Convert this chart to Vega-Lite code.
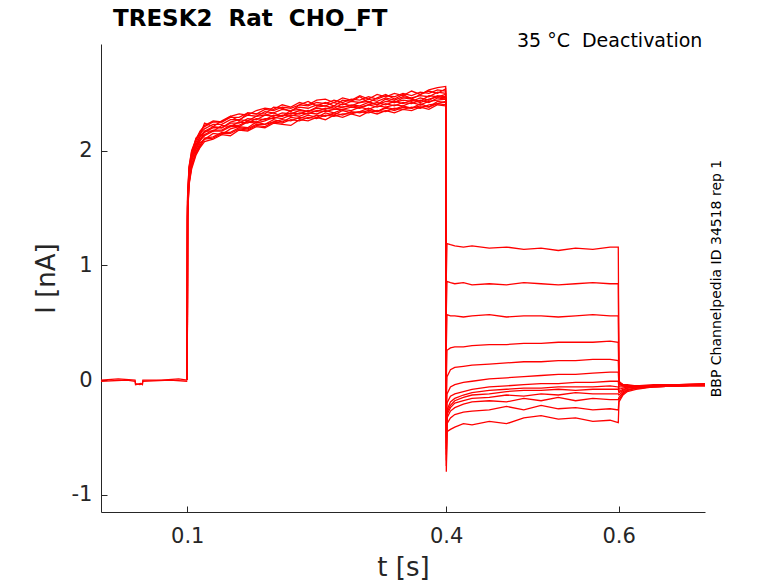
{
  "$schema": "https://vega.github.io/schema/vega-lite/v6.json",
  "width": 604,
  "height": 468,
  "autosize": "none",
  "padding": {"left": 101, "top": 44, "right": 73, "bottom": 71},
  "background": "white",
  "title": {"text": "TRESK2\u00a0 Rat\u00a0 CHO_FT", "anchor": "start", "frame": "group", "dx": 12, "dy": 21, "offset": 4, "baseline": "alphabetic",
            "fontSize": 23, "fontWeight": "bold", "font": "DejaVu Sans", "color": "#000000"},
  "datasets": {
    "note": [{"t": 0.697, "v": 2.9, "label": "35 °C\u00a0 Deactivation"}],
    "traces": [
      {"s":0,"t":0,"v":0},{"s":0,"t":0.02,"v":0.01},{"s":0,"t":0.0395,"v":0},{"s":0,"t":0.04,"v":-0.03},{"s":0,"t":0.045,"v":-0.04},{"s":0,"t":0.048,"v":-0.03},{"s":0,"t":0.0485,"v":0},{"s":0,"t":0.07,"v":0},{"s":0,"t":0.09,"v":0.01},{"s":0,"t":0.1,"v":0},
      {"s":14,"t":0,"v":-0.01},{"s":14,"t":0.03,"v":0},{"s":14,"t":0.0395,"v":-0.01},{"s":14,"t":0.04,"v":-0.04},{"s":14,"t":0.046,"v":-0.03},{"s":14,"t":0.048,"v":-0.04},{"s":14,"t":0.0485,"v":-0.01},{"s":14,"t":0.08,"v":0},{"s":14,"t":0.1,"v":-0.01},

      {"s":1,"t":0.1,"v":0},{"s":1,"t":0.1003,"v":1.55},{"s":1,"t":0.102,"v":1.84},{"s":1,"t":0.105,"v":1.96},{"s":1,"t":0.11,"v":2.11},{"s":1,"t":0.115,"v":2.14},{"s":1,"t":0.12,"v":2.24},{"s":1,"t":0.13,"v":2.21},{"s":1,"t":0.14,"v":2.26},{"s":1,"t":0.15,"v":2.3},{"s":1,"t":0.16,"v":2.26},{"s":1,"t":0.17,"v":2.33},{"s":1,"t":0.18,"v":2.32},{"s":1,"t":0.19,"v":2.32},{"s":1,"t":0.2,"v":2.38},{"s":1,"t":0.21,"v":2.37},{"s":1,"t":0.22,"v":2.34},{"s":1,"t":0.23,"v":2.4},{"s":1,"t":0.24,"v":2.43},{"s":1,"t":0.25,"v":2.39},{"s":1,"t":0.26,"v":2.42},{"s":1,"t":0.27,"v":2.39},{"s":1,"t":0.28,"v":2.44},{"s":1,"t":0.29,"v":2.43},{"s":1,"t":0.3,"v":2.47},{"s":1,"t":0.31,"v":2.42},{"s":1,"t":0.32,"v":2.46},{"s":1,"t":0.33,"v":2.49},{"s":1,"t":0.34,"v":2.45},{"s":1,"t":0.35,"v":2.49},{"s":1,"t":0.36,"v":2.45},{"s":1,"t":0.37,"v":2.49},{"s":1,"t":0.38,"v":2.52},{"s":1,"t":0.39,"v":2.5},{"s":1,"t":0.3995,"v":2.54},
      {"s":1,"t":0.4002,"v":0.9},{"s":1,"t":0.401,"v":1.19},{"s":1,"t":0.405,"v":1.18},{"s":1,"t":0.41,"v":1.17},{"s":1,"t":0.42,"v":1.16},{"s":1,"t":0.43,"v":1.17},{"s":1,"t":0.45,"v":1.15},{"s":1,"t":0.47,"v":1.16},{"s":1,"t":0.49,"v":1.14},{"s":1,"t":0.51,"v":1.15},{"s":1,"t":0.53,"v":1.13},{"s":1,"t":0.55,"v":1.15},{"s":1,"t":0.57,"v":1.14},{"s":1,"t":0.59,"v":1.16},{"s":1,"t":0.5995,"v":1.16},
      {"s":1,"t":0.6003,"v":-0.02},{"s":1,"t":0.605,"v":-0.04},{"s":1,"t":0.61,"v":-0.05},{"s":1,"t":0.62,"v":-0.05},{"s":1,"t":0.64,"v":-0.04},{"s":1,"t":0.67,"v":-0.04},{"s":1,"t":0.7,"v":-0.03},

      {"s":2,"t":0.1,"v":0},{"s":2,"t":0.1003,"v":1.45},{"s":2,"t":0.102,"v":1.74},{"s":2,"t":0.105,"v":1.88},{"s":2,"t":0.11,"v":1.99},{"s":2,"t":0.115,"v":2.07},{"s":2,"t":0.12,"v":2.1},{"s":2,"t":0.13,"v":2.15},{"s":2,"t":0.14,"v":2.14},{"s":2,"t":0.15,"v":2.19},{"s":2,"t":0.16,"v":2.21},{"s":2,"t":0.17,"v":2.2},{"s":2,"t":0.18,"v":2.25},{"s":2,"t":0.19,"v":2.23},{"s":2,"t":0.2,"v":2.27},{"s":2,"t":0.21,"v":2.25},{"s":2,"t":0.22,"v":2.29},{"s":2,"t":0.23,"v":2.28},{"s":2,"t":0.24,"v":2.31},{"s":2,"t":0.25,"v":2.29},{"s":2,"t":0.26,"v":2.33},{"s":2,"t":0.27,"v":2.31},{"s":2,"t":0.28,"v":2.35},{"s":2,"t":0.29,"v":2.33},{"s":2,"t":0.3,"v":2.34},{"s":2,"t":0.31,"v":2.37},{"s":2,"t":0.32,"v":2.34},{"s":2,"t":0.33,"v":2.38},{"s":2,"t":0.34,"v":2.36},{"s":2,"t":0.35,"v":2.39},{"s":2,"t":0.36,"v":2.37},{"s":2,"t":0.37,"v":2.41},{"s":2,"t":0.38,"v":2.38},{"s":2,"t":0.39,"v":2.43},{"s":2,"t":0.3995,"v":2.42},
      {"s":2,"t":0.4002,"v":0.6},{"s":2,"t":0.401,"v":0.86},{"s":2,"t":0.405,"v":0.85},{"s":2,"t":0.41,"v":0.84},{"s":2,"t":0.42,"v":0.85},{"s":2,"t":0.43,"v":0.83},{"s":2,"t":0.45,"v":0.84},{"s":2,"t":0.47,"v":0.83},{"s":2,"t":0.49,"v":0.85},{"s":2,"t":0.51,"v":0.84},{"s":2,"t":0.53,"v":0.83},{"s":2,"t":0.55,"v":0.84},{"s":2,"t":0.57,"v":0.85},{"s":2,"t":0.59,"v":0.84},{"s":2,"t":0.5995,"v":0.84},
      {"s":2,"t":0.6003,"v":-0.01},{"s":2,"t":0.605,"v":-0.04},{"s":2,"t":0.61,"v":-0.04},{"s":2,"t":0.62,"v":-0.05},{"s":2,"t":0.64,"v":-0.05},{"s":2,"t":0.67,"v":-0.04},{"s":2,"t":0.7,"v":-0.03},

      {"s":3,"t":0.1,"v":0},{"s":3,"t":0.1003,"v":1.52},{"s":3,"t":0.102,"v":1.8},{"s":3,"t":0.105,"v":1.96},{"s":3,"t":0.11,"v":2.05},{"s":3,"t":0.115,"v":2.13},{"s":3,"t":0.12,"v":2.17},{"s":3,"t":0.13,"v":2.21},{"s":3,"t":0.14,"v":2.2},{"s":3,"t":0.15,"v":2.25},{"s":3,"t":0.16,"v":2.27},{"s":3,"t":0.17,"v":2.26},{"s":3,"t":0.18,"v":2.3},{"s":3,"t":0.19,"v":2.31},{"s":3,"t":0.2,"v":2.33},{"s":3,"t":0.21,"v":2.3},{"s":3,"t":0.22,"v":2.35},{"s":3,"t":0.23,"v":2.36},{"s":3,"t":0.24,"v":2.34},{"s":3,"t":0.25,"v":2.38},{"s":3,"t":0.26,"v":2.39},{"s":3,"t":0.27,"v":2.37},{"s":3,"t":0.28,"v":2.41},{"s":3,"t":0.29,"v":2.39},{"s":3,"t":0.3,"v":2.42},{"s":3,"t":0.31,"v":2.43},{"s":3,"t":0.32,"v":2.4},{"s":3,"t":0.33,"v":2.45},{"s":3,"t":0.34,"v":2.42},{"s":3,"t":0.35,"v":2.46},{"s":3,"t":0.36,"v":2.45},{"s":3,"t":0.37,"v":2.43},{"s":3,"t":0.38,"v":2.48},{"s":3,"t":0.39,"v":2.47},{"s":3,"t":0.3995,"v":2.49},
      {"s":3,"t":0.4002,"v":0.3},{"s":3,"t":0.401,"v":0.57},{"s":3,"t":0.405,"v":0.56},{"s":3,"t":0.41,"v":0.56},{"s":3,"t":0.42,"v":0.55},{"s":3,"t":0.43,"v":0.56},{"s":3,"t":0.45,"v":0.57},{"s":3,"t":0.47,"v":0.55},{"s":3,"t":0.49,"v":0.56},{"s":3,"t":0.51,"v":0.56},{"s":3,"t":0.53,"v":0.55},{"s":3,"t":0.55,"v":0.56},{"s":3,"t":0.57,"v":0.57},{"s":3,"t":0.59,"v":0.56},{"s":3,"t":0.5995,"v":0.56},
      {"s":3,"t":0.6003,"v":-0.03},{"s":3,"t":0.605,"v":-0.04},{"s":3,"t":0.61,"v":-0.05},{"s":3,"t":0.62,"v":-0.05},{"s":3,"t":0.64,"v":-0.05},{"s":3,"t":0.67,"v":-0.04},{"s":3,"t":0.7,"v":-0.04},

      {"s":4,"t":0.1,"v":0},{"s":4,"t":0.1003,"v":1.4},{"s":4,"t":0.102,"v":1.7},{"s":4,"t":0.105,"v":1.84},{"s":4,"t":0.11,"v":1.96},{"s":4,"t":0.115,"v":2.03},{"s":4,"t":0.12,"v":2.08},{"s":4,"t":0.13,"v":2.1},{"s":4,"t":0.14,"v":2.14},{"s":4,"t":0.15,"v":2.13},{"s":4,"t":0.16,"v":2.18},{"s":4,"t":0.17,"v":2.17},{"s":4,"t":0.18,"v":2.21},{"s":4,"t":0.19,"v":2.2},{"s":4,"t":0.2,"v":2.24},{"s":4,"t":0.21,"v":2.23},{"s":4,"t":0.22,"v":2.22},{"s":4,"t":0.23,"v":2.27},{"s":4,"t":0.24,"v":2.26},{"s":4,"t":0.25,"v":2.29},{"s":4,"t":0.26,"v":2.27},{"s":4,"t":0.27,"v":2.31},{"s":4,"t":0.28,"v":2.29},{"s":4,"t":0.29,"v":2.32},{"s":4,"t":0.3,"v":2.3},{"s":4,"t":0.31,"v":2.34},{"s":4,"t":0.32,"v":2.32},{"s":4,"t":0.33,"v":2.35},{"s":4,"t":0.34,"v":2.33},{"s":4,"t":0.35,"v":2.36},{"s":4,"t":0.36,"v":2.35},{"s":4,"t":0.37,"v":2.38},{"s":4,"t":0.38,"v":2.36},{"s":4,"t":0.39,"v":2.4},{"s":4,"t":0.3995,"v":2.39},
      {"s":4,"t":0.4002,"v":0},{"s":4,"t":0.401,"v":0.26},{"s":4,"t":0.405,"v":0.28},{"s":4,"t":0.41,"v":0.29},{"s":4,"t":0.42,"v":0.29},{"s":4,"t":0.43,"v":0.3},{"s":4,"t":0.45,"v":0.31},{"s":4,"t":0.47,"v":0.31},{"s":4,"t":0.49,"v":0.32},{"s":4,"t":0.51,"v":0.32},{"s":4,"t":0.53,"v":0.33},{"s":4,"t":0.55,"v":0.33},{"s":4,"t":0.57,"v":0.33},{"s":4,"t":0.59,"v":0.34},{"s":4,"t":0.5995,"v":0.33},
      {"s":4,"t":0.6003,"v":-0.03},{"s":4,"t":0.605,"v":-0.05},{"s":4,"t":0.61,"v":-0.05},{"s":4,"t":0.62,"v":-0.05},{"s":4,"t":0.64,"v":-0.05},{"s":4,"t":0.67,"v":-0.04},{"s":4,"t":0.7,"v":-0.04},

      {"s":5,"t":0.1,"v":0},{"s":5,"t":0.1003,"v":1.6},{"s":5,"t":0.102,"v":1.86},{"s":5,"t":0.105,"v":2},{"s":5,"t":0.11,"v":2.1},{"s":5,"t":0.115,"v":2.17},{"s":5,"t":0.12,"v":2.22},{"s":5,"t":0.13,"v":2.26},{"s":5,"t":0.14,"v":2.25},{"s":5,"t":0.15,"v":2.3},{"s":5,"t":0.16,"v":2.32},{"s":5,"t":0.17,"v":2.31},{"s":5,"t":0.18,"v":2.35},{"s":5,"t":0.19,"v":2.37},{"s":5,"t":0.2,"v":2.36},{"s":5,"t":0.21,"v":2.4},{"s":5,"t":0.22,"v":2.38},{"s":5,"t":0.23,"v":2.42},{"s":5,"t":0.24,"v":2.4},{"s":5,"t":0.25,"v":2.44},{"s":5,"t":0.26,"v":2.45},{"s":5,"t":0.27,"v":2.42},{"s":5,"t":0.28,"v":2.46},{"s":5,"t":0.29,"v":2.44},{"s":5,"t":0.3,"v":2.48},{"s":5,"t":0.31,"v":2.45},{"s":5,"t":0.32,"v":2.49},{"s":5,"t":0.33,"v":2.47},{"s":5,"t":0.34,"v":2.5},{"s":5,"t":0.35,"v":2.48},{"s":5,"t":0.36,"v":2.52},{"s":5,"t":0.37,"v":2.49},{"s":5,"t":0.38,"v":2.53},{"s":5,"t":0.39,"v":2.55},{"s":5,"t":0.3995,"v":2.56},
      {"s":5,"t":0.4002,"v":-0.2},{"s":5,"t":0.401,"v":0.03},{"s":5,"t":0.405,"v":0.09},{"s":5,"t":0.41,"v":0.11},{"s":5,"t":0.42,"v":0.12},{"s":5,"t":0.43,"v":0.13},{"s":5,"t":0.45,"v":0.14},{"s":5,"t":0.47,"v":0.15},{"s":5,"t":0.49,"v":0.16},{"s":5,"t":0.51,"v":0.16},{"s":5,"t":0.53,"v":0.17},{"s":5,"t":0.55,"v":0.17},{"s":5,"t":0.57,"v":0.18},{"s":5,"t":0.59,"v":0.18},{"s":5,"t":0.5995,"v":0.17},
      {"s":5,"t":0.6003,"v":-0.04},{"s":5,"t":0.605,"v":-0.05},{"s":5,"t":0.61,"v":-0.06},{"s":5,"t":0.62,"v":-0.05},{"s":5,"t":0.64,"v":-0.05},{"s":5,"t":0.67,"v":-0.04},{"s":5,"t":0.7,"v":-0.04},

      {"s":6,"t":0.1,"v":0},{"s":6,"t":0.1003,"v":1.5},{"s":6,"t":0.102,"v":1.78},{"s":6,"t":0.105,"v":1.92},{"s":6,"t":0.11,"v":2.05},{"s":6,"t":0.115,"v":2.09},{"s":6,"t":0.12,"v":2.17},{"s":6,"t":0.13,"v":2.17},{"s":6,"t":0.14,"v":2.22},{"s":6,"t":0.15,"v":2.21},{"s":6,"t":0.16,"v":2.25},{"s":6,"t":0.17,"v":2.24},{"s":6,"t":0.18,"v":2.28},{"s":6,"t":0.19,"v":2.27},{"s":6,"t":0.2,"v":2.31},{"s":6,"t":0.21,"v":2.3},{"s":6,"t":0.22,"v":2.33},{"s":6,"t":0.23,"v":2.32},{"s":6,"t":0.24,"v":2.35},{"s":6,"t":0.25,"v":2.34},{"s":6,"t":0.26,"v":2.37},{"s":6,"t":0.27,"v":2.36},{"s":6,"t":0.28,"v":2.38},{"s":6,"t":0.29,"v":2.39},{"s":6,"t":0.3,"v":2.38},{"s":6,"t":0.31,"v":2.4},{"s":6,"t":0.32,"v":2.42},{"s":6,"t":0.33,"v":2.4},{"s":6,"t":0.34,"v":2.43},{"s":6,"t":0.35,"v":2.41},{"s":6,"t":0.36,"v":2.44},{"s":6,"t":0.37,"v":2.42},{"s":6,"t":0.38,"v":2.45},{"s":6,"t":0.39,"v":2.47},{"s":6,"t":0.3995,"v":2.46},
      {"s":6,"t":0.4002,"v":-0.4},{"s":6,"t":0.401,"v":-0.12},{"s":6,"t":0.405,"v":-0.06},{"s":6,"t":0.41,"v":-0.04},{"s":6,"t":0.42,"v":-0.02},{"s":6,"t":0.43,"v":-0.01},{"s":6,"t":0.45,"v":0.01},{"s":6,"t":0.47,"v":0.02},{"s":6,"t":0.49,"v":0.03},{"s":6,"t":0.51,"v":0.04},{"s":6,"t":0.53,"v":0.05},{"s":6,"t":0.55,"v":0.05},{"s":6,"t":0.57,"v":0.06},{"s":6,"t":0.59,"v":0.07},{"s":6,"t":0.5995,"v":0.07},
      {"s":6,"t":0.6003,"v":-0.06},{"s":6,"t":0.605,"v":-0.06},{"s":6,"t":0.61,"v":-0.06},{"s":6,"t":0.62,"v":-0.05},{"s":6,"t":0.64,"v":-0.05},{"s":6,"t":0.67,"v":-0.05},{"s":6,"t":0.7,"v":-0.04},

      {"s":7,"t":0.1,"v":0},{"s":7,"t":0.1003,"v":1.47},{"s":7,"t":0.102,"v":1.76},{"s":7,"t":0.105,"v":1.91},{"s":7,"t":0.11,"v":2.01},{"s":7,"t":0.115,"v":2.09},{"s":7,"t":0.12,"v":2.13},{"s":7,"t":0.13,"v":2.17},{"s":7,"t":0.14,"v":2.17},{"s":7,"t":0.15,"v":2.21},{"s":7,"t":0.16,"v":2.21},{"s":7,"t":0.17,"v":2.25},{"s":7,"t":0.18,"v":2.24},{"s":7,"t":0.19,"v":2.26},{"s":7,"t":0.2,"v":2.29},{"s":7,"t":0.21,"v":2.28},{"s":7,"t":0.22,"v":2.31},{"s":7,"t":0.23,"v":2.3},{"s":7,"t":0.24,"v":2.33},{"s":7,"t":0.25,"v":2.32},{"s":7,"t":0.26,"v":2.35},{"s":7,"t":0.27,"v":2.33},{"s":7,"t":0.28,"v":2.36},{"s":7,"t":0.29,"v":2.35},{"s":7,"t":0.3,"v":2.38},{"s":7,"t":0.31,"v":2.36},{"s":7,"t":0.32,"v":2.39},{"s":7,"t":0.33,"v":2.38},{"s":7,"t":0.34,"v":2.4},{"s":7,"t":0.35,"v":2.39},{"s":7,"t":0.36,"v":2.42},{"s":7,"t":0.37,"v":2.4},{"s":7,"t":0.38,"v":2.43},{"s":7,"t":0.39,"v":2.44},{"s":7,"t":0.3995,"v":2.45},
      {"s":7,"t":0.4002,"v":-0.5},{"s":7,"t":0.401,"v":-0.2},{"s":7,"t":0.405,"v":-0.14},{"s":7,"t":0.41,"v":-0.12},{"s":7,"t":0.42,"v":-0.1},{"s":7,"t":0.43,"v":-0.08},{"s":7,"t":0.45,"v":-0.06},{"s":7,"t":0.47,"v":-0.05},{"s":7,"t":0.49,"v":-0.04},{"s":7,"t":0.51,"v":-0.03},{"s":7,"t":0.53,"v":-0.03},{"s":7,"t":0.55,"v":-0.02},{"s":7,"t":0.57,"v":-0.02},{"s":7,"t":0.59,"v":-0.01},{"s":7,"t":0.5995,"v":-0.01},
      {"s":7,"t":0.6003,"v":-0.08},{"s":7,"t":0.605,"v":-0.07},{"s":7,"t":0.61,"v":-0.06},{"s":7,"t":0.62,"v":-0.06},{"s":7,"t":0.64,"v":-0.05},{"s":7,"t":0.67,"v":-0.04},{"s":7,"t":0.7,"v":-0.04},

      {"s":8,"t":0.1,"v":0},{"s":8,"t":0.1003,"v":1.56},{"s":8,"t":0.102,"v":1.82},{"s":8,"t":0.105,"v":1.97},{"s":8,"t":0.11,"v":2.07},{"s":8,"t":0.115,"v":2.15},{"s":8,"t":0.12,"v":2.19},{"s":8,"t":0.13,"v":2.23},{"s":8,"t":0.14,"v":2.23},{"s":8,"t":0.15,"v":2.27},{"s":8,"t":0.16,"v":2.27},{"s":8,"t":0.17,"v":2.31},{"s":8,"t":0.18,"v":2.3},{"s":8,"t":0.19,"v":2.34},{"s":8,"t":0.2,"v":2.33},{"s":8,"t":0.21,"v":2.36},{"s":8,"t":0.22,"v":2.35},{"s":8,"t":0.23,"v":2.38},{"s":8,"t":0.24,"v":2.37},{"s":8,"t":0.25,"v":2.4},{"s":8,"t":0.26,"v":2.39},{"s":8,"t":0.27,"v":2.42},{"s":8,"t":0.28,"v":2.4},{"s":8,"t":0.29,"v":2.43},{"s":8,"t":0.3,"v":2.42},{"s":8,"t":0.31,"v":2.45},{"s":8,"t":0.32,"v":2.43},{"s":8,"t":0.33,"v":2.46},{"s":8,"t":0.34,"v":2.44},{"s":8,"t":0.35,"v":2.47},{"s":8,"t":0.36,"v":2.46},{"s":8,"t":0.37,"v":2.48},{"s":8,"t":0.38,"v":2.47},{"s":8,"t":0.39,"v":2.51},{"s":8,"t":0.3995,"v":2.5},
      {"s":8,"t":0.4002,"v":-0.55},{"s":8,"t":0.401,"v":-0.26},{"s":8,"t":0.405,"v":-0.19},{"s":8,"t":0.41,"v":-0.16},{"s":8,"t":0.42,"v":-0.13},{"s":8,"t":0.43,"v":-0.11},{"s":8,"t":0.45,"v":-0.09},{"s":8,"t":0.47,"v":-0.08},{"s":8,"t":0.49,"v":-0.07},{"s":8,"t":0.51,"v":-0.07},{"s":8,"t":0.53,"v":-0.06},{"s":8,"t":0.55,"v":-0.06},{"s":8,"t":0.57,"v":-0.06},{"s":8,"t":0.59,"v":-0.05},{"s":8,"t":0.5995,"v":-0.06},
      {"s":8,"t":0.6003,"v":-0.1},{"s":8,"t":0.605,"v":-0.08},{"s":8,"t":0.61,"v":-0.07},{"s":8,"t":0.62,"v":-0.06},{"s":8,"t":0.64,"v":-0.05},{"s":8,"t":0.67,"v":-0.05},{"s":8,"t":0.7,"v":-0.04},

      {"s":9,"t":0.1,"v":0},{"s":9,"t":0.1003,"v":1.43},{"s":9,"t":0.102,"v":1.72},{"s":9,"t":0.105,"v":1.87},{"s":9,"t":0.11,"v":1.98},{"s":9,"t":0.115,"v":2.05},{"s":9,"t":0.12,"v":2.11},{"s":9,"t":0.13,"v":2.12},{"s":9,"t":0.14,"v":2.16},{"s":9,"t":0.15,"v":2.16},{"s":9,"t":0.16,"v":2.2},{"s":9,"t":0.17,"v":2.19},{"s":9,"t":0.18,"v":2.23},{"s":9,"t":0.19,"v":2.23},{"s":9,"t":0.2,"v":2.25},{"s":9,"t":0.21,"v":2.27},{"s":9,"t":0.22,"v":2.26},{"s":9,"t":0.23,"v":2.29},{"s":9,"t":0.24,"v":2.28},{"s":9,"t":0.25,"v":2.31},{"s":9,"t":0.26,"v":2.3},{"s":9,"t":0.27,"v":2.33},{"s":9,"t":0.28,"v":2.31},{"s":9,"t":0.29,"v":2.34},{"s":9,"t":0.3,"v":2.33},{"s":9,"t":0.31,"v":2.35},{"s":9,"t":0.32,"v":2.34},{"s":9,"t":0.33,"v":2.37},{"s":9,"t":0.34,"v":2.35},{"s":9,"t":0.35,"v":2.38},{"s":9,"t":0.36,"v":2.37},{"s":9,"t":0.37,"v":2.39},{"s":9,"t":0.38,"v":2.38},{"s":9,"t":0.39,"v":2.41},{"s":9,"t":0.3995,"v":2.43},
      {"s":9,"t":0.4002,"v":-0.6},{"s":9,"t":0.401,"v":-0.28},{"s":9,"t":0.405,"v":-0.22},{"s":9,"t":0.41,"v":-0.18},{"s":9,"t":0.42,"v":-0.15},{"s":9,"t":0.43,"v":-0.13},{"s":9,"t":0.45,"v":-0.12},{"s":9,"t":0.47,"v":-0.1},{"s":9,"t":0.49,"v":-0.09},{"s":9,"t":0.51,"v":-0.09},{"s":9,"t":0.53,"v":-0.08},{"s":9,"t":0.55,"v":-0.09},{"s":9,"t":0.57,"v":-0.08},{"s":9,"t":0.59,"v":-0.08},{"s":9,"t":0.5995,"v":-0.08},
      {"s":9,"t":0.6003,"v":-0.11},{"s":9,"t":0.605,"v":-0.09},{"s":9,"t":0.61,"v":-0.07},{"s":9,"t":0.62,"v":-0.06},{"s":9,"t":0.64,"v":-0.05},{"s":9,"t":0.67,"v":-0.05},{"s":9,"t":0.7,"v":-0.04},

      {"s":10,"t":0.1,"v":0},{"s":10,"t":0.1003,"v":1.51},{"s":10,"t":0.102,"v":1.79},{"s":10,"t":0.105,"v":1.95},{"s":10,"t":0.11,"v":2.04},{"s":10,"t":0.115,"v":2.12},{"s":10,"t":0.12,"v":2.16},{"s":10,"t":0.13,"v":2.2},{"s":10,"t":0.14,"v":2.2},{"s":10,"t":0.15,"v":2.24},{"s":10,"t":0.16,"v":2.24},{"s":10,"t":0.17,"v":2.28},{"s":10,"t":0.18,"v":2.27},{"s":10,"t":0.19,"v":2.31},{"s":10,"t":0.2,"v":2.3},{"s":10,"t":0.21,"v":2.33},{"s":10,"t":0.22,"v":2.32},{"s":10,"t":0.23,"v":2.35},{"s":10,"t":0.24,"v":2.34},{"s":10,"t":0.25,"v":2.37},{"s":10,"t":0.26,"v":2.36},{"s":10,"t":0.27,"v":2.39},{"s":10,"t":0.28,"v":2.38},{"s":10,"t":0.29,"v":2.4},{"s":10,"t":0.3,"v":2.39},{"s":10,"t":0.31,"v":2.42},{"s":10,"t":0.32,"v":2.4},{"s":10,"t":0.33,"v":2.43},{"s":10,"t":0.34,"v":2.42},{"s":10,"t":0.35,"v":2.44},{"s":10,"t":0.36,"v":2.43},{"s":10,"t":0.37,"v":2.46},{"s":10,"t":0.38,"v":2.44},{"s":10,"t":0.39,"v":2.48},{"s":10,"t":0.3995,"v":2.47},
      {"s":10,"t":0.4002,"v":-0.65},{"s":10,"t":0.401,"v":-0.3},{"s":10,"t":0.405,"v":-0.24},{"s":10,"t":0.41,"v":-0.2},{"s":10,"t":0.42,"v":-0.18},{"s":10,"t":0.43,"v":-0.16},{"s":10,"t":0.45,"v":-0.15},{"s":10,"t":0.47,"v":-0.13},{"s":10,"t":0.49,"v":-0.14},{"s":10,"t":0.51,"v":-0.12},{"s":10,"t":0.53,"v":-0.13},{"s":10,"t":0.55,"v":-0.11},{"s":10,"t":0.57,"v":-0.12},{"s":10,"t":0.59,"v":-0.12},{"s":10,"t":0.5995,"v":-0.12},
      {"s":10,"t":0.6003,"v":-0.13},{"s":10,"t":0.605,"v":-0.1},{"s":10,"t":0.61,"v":-0.08},{"s":10,"t":0.62,"v":-0.07},{"s":10,"t":0.64,"v":-0.06},{"s":10,"t":0.67,"v":-0.05},{"s":10,"t":0.7,"v":-0.05},

      {"s":11,"t":0.1,"v":0},{"s":11,"t":0.1003,"v":1.49},{"s":11,"t":0.102,"v":1.77},{"s":11,"t":0.105,"v":1.93},{"s":11,"t":0.11,"v":2.02},{"s":11,"t":0.115,"v":2.1},{"s":11,"t":0.12,"v":2.14},{"s":11,"t":0.13,"v":2.18},{"s":11,"t":0.14,"v":2.18},{"s":11,"t":0.15,"v":2.22},{"s":11,"t":0.16,"v":2.22},{"s":11,"t":0.17,"v":2.26},{"s":11,"t":0.18,"v":2.25},{"s":11,"t":0.19,"v":2.28},{"s":11,"t":0.2,"v":2.28},{"s":11,"t":0.21,"v":2.31},{"s":11,"t":0.22,"v":2.3},{"s":11,"t":0.23,"v":2.33},{"s":11,"t":0.24,"v":2.32},{"s":11,"t":0.25,"v":2.35},{"s":11,"t":0.26,"v":2.34},{"s":11,"t":0.27,"v":2.36},{"s":11,"t":0.28,"v":2.36},{"s":11,"t":0.29,"v":2.38},{"s":11,"t":0.3,"v":2.37},{"s":11,"t":0.31,"v":2.4},{"s":11,"t":0.32,"v":2.38},{"s":11,"t":0.33,"v":2.41},{"s":11,"t":0.34,"v":2.39},{"s":11,"t":0.35,"v":2.42},{"s":11,"t":0.36,"v":2.41},{"s":11,"t":0.37,"v":2.44},{"s":11,"t":0.38,"v":2.42},{"s":11,"t":0.39,"v":2.46},{"s":11,"t":0.3995,"v":2.45},
      {"s":11,"t":0.4002,"v":-0.7},{"s":11,"t":0.401,"v":-0.33},{"s":11,"t":0.405,"v":-0.27},{"s":11,"t":0.41,"v":-0.24},{"s":11,"t":0.42,"v":-0.21},{"s":11,"t":0.43,"v":-0.19},{"s":11,"t":0.45,"v":-0.18},{"s":11,"t":0.47,"v":-0.19},{"s":11,"t":0.49,"v":-0.16},{"s":11,"t":0.51,"v":-0.18},{"s":11,"t":0.53,"v":-0.15},{"s":11,"t":0.55,"v":-0.18},{"s":11,"t":0.57,"v":-0.16},{"s":11,"t":0.59,"v":-0.17},{"s":11,"t":0.5995,"v":-0.17},
      {"s":11,"t":0.6003,"v":-0.15},{"s":11,"t":0.605,"v":-0.11},{"s":11,"t":0.61,"v":-0.09},{"s":11,"t":0.62,"v":-0.07},{"s":11,"t":0.64,"v":-0.06},{"s":11,"t":0.67,"v":-0.05},{"s":11,"t":0.7,"v":-0.04},

      {"s":12,"t":0.1,"v":0},{"s":12,"t":0.1003,"v":1.58},{"s":12,"t":0.102,"v":1.85},{"s":12,"t":0.105,"v":1.99},{"s":12,"t":0.11,"v":2.09},{"s":12,"t":0.115,"v":2.17},{"s":12,"t":0.12,"v":2.21},{"s":12,"t":0.13,"v":2.25},{"s":12,"t":0.14,"v":2.25},{"s":12,"t":0.15,"v":2.29},{"s":12,"t":0.16,"v":2.29},{"s":12,"t":0.17,"v":2.33},{"s":12,"t":0.18,"v":2.32},{"s":12,"t":0.19,"v":2.36},{"s":12,"t":0.2,"v":2.35},{"s":12,"t":0.21,"v":2.38},{"s":12,"t":0.22,"v":2.37},{"s":12,"t":0.23,"v":2.4},{"s":12,"t":0.24,"v":2.39},{"s":12,"t":0.25,"v":2.42},{"s":12,"t":0.26,"v":2.41},{"s":12,"t":0.27,"v":2.44},{"s":12,"t":0.28,"v":2.42},{"s":12,"t":0.29,"v":2.45},{"s":12,"t":0.3,"v":2.44},{"s":12,"t":0.31,"v":2.47},{"s":12,"t":0.32,"v":2.45},{"s":12,"t":0.33,"v":2.48},{"s":12,"t":0.34,"v":2.47},{"s":12,"t":0.35,"v":2.5},{"s":12,"t":0.36,"v":2.48},{"s":12,"t":0.37,"v":2.51},{"s":12,"t":0.38,"v":2.5},{"s":12,"t":0.39,"v":2.53},{"s":12,"t":0.3995,"v":2.52},
      {"s":12,"t":0.4002,"v":-0.75},{"s":12,"t":0.401,"v":-0.38},{"s":12,"t":0.405,"v":-0.33},{"s":12,"t":0.41,"v":-0.3},{"s":12,"t":0.42,"v":-0.28},{"s":12,"t":0.43,"v":-0.27},{"s":12,"t":0.45,"v":-0.26},{"s":12,"t":0.47,"v":-0.23},{"s":12,"t":0.49,"v":-0.26},{"s":12,"t":0.51,"v":-0.22},{"s":12,"t":0.53,"v":-0.25},{"s":12,"t":0.55,"v":-0.24},{"s":12,"t":0.57,"v":-0.26},{"s":12,"t":0.59,"v":-0.25},{"s":12,"t":0.5995,"v":-0.26},
      {"s":12,"t":0.6003,"v":-0.17},{"s":12,"t":0.605,"v":-0.12},{"s":12,"t":0.61,"v":-0.09},{"s":12,"t":0.62,"v":-0.07},{"s":12,"t":0.64,"v":-0.06},{"s":12,"t":0.67,"v":-0.05},{"s":12,"t":0.7,"v":-0.05},

      {"s":13,"t":0.1,"v":0},{"s":13,"t":0.1003,"v":1.42},{"s":13,"t":0.102,"v":1.71},{"s":13,"t":0.105,"v":1.86},{"s":13,"t":0.11,"v":1.97},{"s":13,"t":0.115,"v":2.04},{"s":13,"t":0.12,"v":2.1},{"s":13,"t":0.13,"v":2.11},{"s":13,"t":0.14,"v":2.15},{"s":13,"t":0.15,"v":2.15},{"s":13,"t":0.16,"v":2.19},{"s":13,"t":0.17,"v":2.18},{"s":13,"t":0.18,"v":2.22},{"s":13,"t":0.19,"v":2.21},{"s":13,"t":0.2,"v":2.25},{"s":13,"t":0.21,"v":2.24},{"s":13,"t":0.22,"v":2.27},{"s":13,"t":0.23,"v":2.26},{"s":13,"t":0.24,"v":2.29},{"s":13,"t":0.25,"v":2.28},{"s":13,"t":0.26,"v":2.31},{"s":13,"t":0.27,"v":2.3},{"s":13,"t":0.28,"v":2.32},{"s":13,"t":0.29,"v":2.32},{"s":13,"t":0.3,"v":2.34},{"s":13,"t":0.31,"v":2.33},{"s":13,"t":0.32,"v":2.35},{"s":13,"t":0.33,"v":2.34},{"s":13,"t":0.34,"v":2.37},{"s":13,"t":0.35,"v":2.36},{"s":13,"t":0.36,"v":2.38},{"s":13,"t":0.37,"v":2.37},{"s":13,"t":0.38,"v":2.4},{"s":13,"t":0.39,"v":2.41},{"s":13,"t":0.3995,"v":2.4},
      {"s":13,"t":0.4002,"v":-0.8},{"s":13,"t":0.401,"v":-0.45},{"s":13,"t":0.405,"v":-0.43},{"s":13,"t":0.41,"v":-0.41},{"s":13,"t":0.42,"v":-0.38},{"s":13,"t":0.43,"v":-0.39},{"s":13,"t":0.45,"v":-0.36},{"s":13,"t":0.47,"v":-0.38},{"s":13,"t":0.49,"v":-0.33},{"s":13,"t":0.51,"v":-0.31},{"s":13,"t":0.53,"v":-0.34},{"s":13,"t":0.55,"v":-0.33},{"s":13,"t":0.57,"v":-0.36},{"s":13,"t":0.59,"v":-0.35},{"s":13,"t":0.5995,"v":-0.37},
      {"s":13,"t":0.6003,"v":-0.19},{"s":13,"t":0.605,"v":-0.13},{"s":13,"t":0.61,"v":-0.1},{"s":13,"t":0.62,"v":-0.08},{"s":13,"t":0.64,"v":-0.06},{"s":13,"t":0.67,"v":-0.05},{"s":13,"t":0.7,"v":-0.04}
    ]
  },
  "layer": [
    {
      "data": {"name": "traces"},
      "mark": {"type": "line", "color": "#ff0000", "strokeWidth": 1.3},
      "encoding": {
        "x": {"field": "t", "type": "quantitative", "title": "t [s]",
              "scale": {"domain": [0, 0.7], "nice": false, "zero": false},
              "axis": {"values": [0.1, 0.4, 0.6], "format": ".1f", "tickSize": -6, "labelPadding": 19, "titlePadding": 8,
                       "labelFontSize": 21, "titleFontSize": 26}},
        "y": {"field": "v", "type": "quantitative", "title": "I [nA]",
              "scale": {"domain": [-1.15, 2.93], "nice": false, "zero": false},
              "axis": {"values": [-1, 0, 1, 2], "tickSize": -6, "labelPadding": 15, "titlePadding": 12,
                       "labelFontSize": 21, "titleFontSize": 26,
                       "labelExpr": "datum.value < 0 ? '-' + format(-datum.value, 'd') : format(datum.value, 'd')"}},
        "detail": {"field": "s", "type": "nominal"}
      }
    },
    {
      "data": {"name": "note"},
      "mark": {"type": "text", "align": "right", "baseline": "alphabetic", "fontSize": 19, "font": "DejaVu Sans", "color": "#000000"},
      "encoding": {
        "x": {"field": "t", "type": "quantitative", "title": "t [s]"},
        "y": {"field": "v", "type": "quantitative",
              "axis": {"orient": "right", "title": "BBP Channelpedia ID 34518 rep 1", "domain": false, "ticks": false, "labels": false,
                       "titleFontSize": 14, "titleAngle": 270, "titlePadding": 18, "titleColor": "#000000"}},
        "text": {"field": "label"}
      }
    }
  ],
  "resolve": {"axis": {"y": "independent"}},
  "config": {
    "view": {"stroke": null},
    "axis": {"grid": false, "domainColor": "#262626", "tickColor": "#262626", "labelColor": "#262626", "titleColor": "#262626",
             "labelFont": "DejaVu Sans", "titleFont": "DejaVu Sans", "titleFontWeight": "normal"}
  }
}
